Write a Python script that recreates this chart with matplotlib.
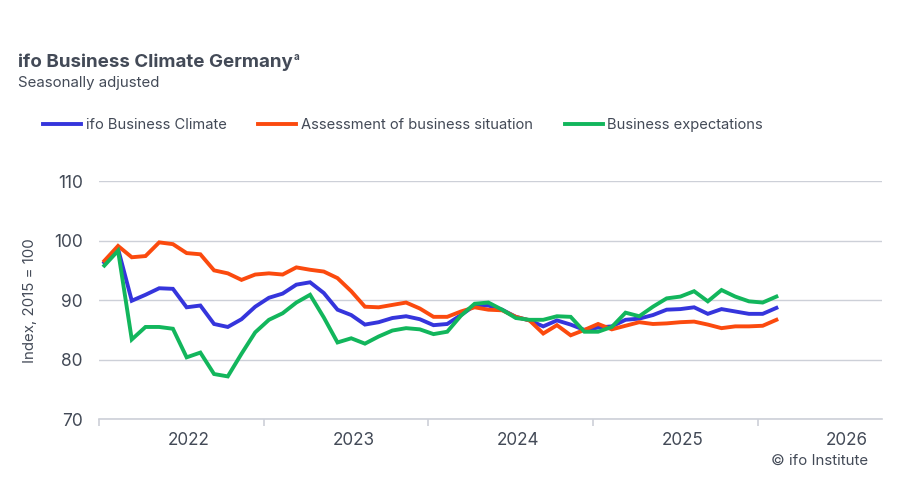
import matplotlib
matplotlib.use("Agg")
import matplotlib.pyplot as plt
import numpy as np

plt.rcParams['font.family'] = ['Inter', 'DejaVu Sans']

# Monthly data, Jan 2022 - Feb 2026
months = [f"{y}-{m:02d}" for y in range(2022, 2027) for m in range(1, 13)][:50]

climate = [96.3, 98.6, 89.9, 90.9, 92.0, 91.9, 88.8, 89.1, 86.0, 85.5, 86.8, 88.9,
           90.4, 91.1, 92.6, 93.0, 91.2, 88.4, 87.5, 85.9, 86.3, 87.0, 87.3, 86.8,
           85.8, 86.0, 87.5, 89.1, 89.1, 88.4, 87.2, 86.6, 85.6, 86.6, 85.9, 85.0,
           85.4, 85.6, 86.7, 86.9, 87.5, 88.4, 88.5, 88.8, 87.7, 88.5, 88.1, 87.7,
           87.7, 88.7]
situation = [96.6, 99.1, 97.2, 97.4, 99.7, 99.4, 97.9, 97.7, 95.0, 94.5, 93.4, 94.3,
             94.5, 94.3, 95.5, 95.1, 94.8, 93.7, 91.5, 88.9, 88.8, 89.2, 89.6, 88.6,
             87.2, 87.2, 88.1, 88.8, 88.4, 88.3, 87.2, 86.6, 84.4, 85.8, 84.1, 85.0,
             86.0, 85.1, 85.7, 86.3, 86.0, 86.1, 86.3, 86.4, 85.9, 85.3, 85.6, 85.6,
             85.7, 86.7]
expectations = [95.8, 98.3, 83.4, 85.5, 85.5, 85.2, 80.4, 81.2, 77.6, 77.2, 81.0, 84.6,
                86.7, 87.8, 89.6, 90.9, 87.1, 82.9, 83.6, 82.7, 83.9, 84.9, 85.3, 85.1,
                84.3, 84.7, 87.4, 89.4, 89.6, 88.4, 87.0, 86.7, 86.7, 87.3, 87.2, 84.7,
                84.7, 85.5, 87.9, 87.3, 88.9, 90.3, 90.6, 91.5, 89.8, 91.7, 90.6, 89.8,
                89.6, 90.6]

series_names = ["ifo Business Climate", "Assessment of business situation", "Business expectations"]
years = ["2022", "2023", "2024", "2025", "2026"]
yticks = [70, 80, 90, 100, 110]

colors = ["#3535DC", "#FB4A0E", "#12B65C"]
text_col = "#434A57"
grid_col = "#CDD0D8"

x = np.arange(len(months))

fig = plt.figure(figsize=(9, 4.94), dpi=100)
ax = fig.add_axes([0.1103, 0.1512, 0.98 - 0.1103, 0.6336 - 0.1512])

for vals, c, name in zip([climate, situation, expectations], colors, series_names):
    ax.plot(x, vals, color=c, lw=2.8, label=name, solid_joinstyle='miter', zorder=3)

ax.set_ylim(70, 110)
ax.set_xlim(-0.37, 56.7)
ax.set_yticks(yticks)
ax.set_yticklabels([str(v) for v in yticks])
ax.grid(axis='y', color=grid_col, lw=1.0, zorder=0)
ax.set_axisbelow(True)
for s in ['top', 'right', 'left']:
    ax.spines[s].set_visible(False)
ax.spines['bottom'].set_color(grid_col)
ax.spines['bottom'].set_linewidth(1.2)
ax.tick_params(axis='y', length=0, pad=12, labelsize=12.5, labelcolor=text_col)

bounds = [12 * k - 0.37 for k in range(len(years))]
mids = [12 * k + 6.15 for k in range(len(years))]
ax.set_xticks(bounds)
ax.set_xticklabels([''] * len(bounds))
ax.set_xticks(mids, minor=True)
ax.set_xticklabels(years, minor=True)
ax.tick_params(axis='x', which='major', length=5, color=grid_col, width=1.2)
ax.tick_params(axis='x', which='minor', length=0, pad=9, labelsize=12.3, labelcolor=text_col)

ax.set_ylabel("Index, 2015 = 100", fontsize=10.8, color=text_col, labelpad=12)

# Titles
t = fig.text(18 / 900, 1 - 67 / 494, "ifo Business Climate Germany", fontsize=13.5,
             fontweight='bold', color=text_col, ha='left', va='baseline')
fig.canvas.draw()
bb = t.get_window_extent(fig.canvas.get_renderer())
fig.text(bb.x1 / 900 + 0.0005, 1 - 60 / 494, "a", fontsize=7, fontweight='bold',
         color=text_col, ha='left', va='baseline')
fig.text(18 / 900, 1 - 86.5 / 494, "Seasonally adjusted", fontsize=10.8,
         color=text_col, ha='left', va='baseline')

leg = ax.legend(loc='lower left', bbox_to_anchor=(43 / 900, 1 - 132 / 494), bbox_transform=fig.transFigure,
                ncol=3, frameon=False, fontsize=10.6, handlelength=2.6, handletextpad=0.3,
                columnspacing=2.15, borderaxespad=0, borderpad=0)
for txt in leg.get_texts():
    txt.set_color(text_col)

fig.text(868 / 900, 1 - 465 / 494, "© ifo Institute", fontsize=10.8, color=text_col,
         ha='right', va='baseline')

fig.savefig("out.png", dpi=100, facecolor='white')
